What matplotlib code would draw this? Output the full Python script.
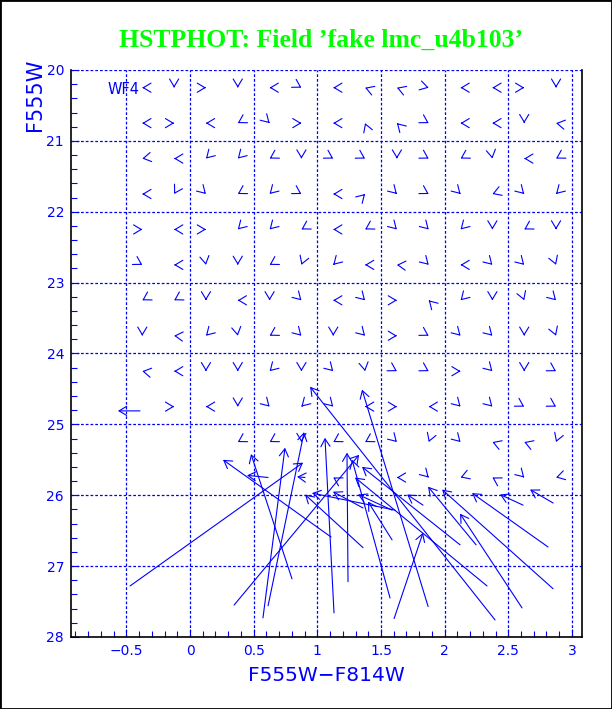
import numpy as np
import matplotlib
matplotlib.use('Agg')
import matplotlib.pyplot as plt
from matplotlib.ticker import MultipleLocator
from matplotlib.patches import Rectangle

BLUE = '#0000ff'

# input grid of the fake stars (colour, magnitude)
col_centers = [-0.375, -0.125, 0.125, 0.375, 0.625, 0.875, 1.125,
               1.375, 1.625, 1.875, 2.125, 2.375, 2.625, 2.875]
row_mags = [20.25, 20.75, 21.25, 21.75, 22.25, 22.75,
            23.25, 23.75, 24.25, 24.75, 25.25, 25.75]

# screen direction (deg, ccw from +x) of the tiny offset arrows, None = no short arrow
small_dirs = [
    [180, 270, 0, 270, 180, 330, 180, 160, 160, 345, 180, 180, 0, 270],
    [180, 0, 180, 210, 315, 0, 180, 110, 135, 330, 180, 180, 270, 170],
    [190, 180, 225, 225, 210, 270, 330, 330, 270, 330, 210, 280, 180, 210],
    [180, 240, 315, 210, 225, 330, 180, 45, 315, 330, 315, 200, 315, 225],
    [0, 180, 0, 225, 225, 210, 180, 210, 315, 315, 225, 270, 210, 270],
    [330, 180, 280, 270, 210, 250, 225, 180, 175, 315, 180, 315, 315, 290],
    [210, 210, 270, 180, 270, 315, 180, 315, 0, 135, 225, 270, 290, 315],
    [270, 175, 225, 280, 210, 315, 270, 315, 0, 330, 315, 315, 270, 290],
    [170, 180, 270, 270, 225, 270, 315, 280, 330, 330, 0, 315, 270, 330],
    [None, 0, 180, 270, 315, 225, 315, 180, 0, 180, 315, 315, 330, 330],
    [None, None, None, 210, 210, 270, 210, 210, 315, 250, 315, 160, 160, 250],
    [None, None, None, None, None, None, 150, None, 180, 315, 200, 150, 315, 195],
]

# arrows with a visible shaft: start (x0, y0) -> end (x1, y1)
long_x0 = [-0.471, 1.108, 0.801, 0.573, 0.613, 1.131, 1.241, 0.346, 2.396, 1.870,
           1.603, 1.571, 2.121, 2.333, 1.359, 1.610, 1.359, 1.587, 1.587, 2.852,
           2.616, 2.812, 2.608, 2.852, 1.830, 2.247, 0.613, 0.903, -0.393]
long_y0 = [27.28, 26.59, 27.18, 27.73, 27.56, 27.66, 27.22, 27.55, 27.76, 27.57,
           27.74, 27.45, 26.70, 27.28, 26.74, 26.21, 26.18, 26.21, 26.63, 26.11,
           26.14, 26.73, 27.59, 27.32, 26.14, 26.70, 25.75, 25.75, 24.81]
long_x1 = [0.888, 0.259, 0.479, 0.746, 0.896, 1.060, 1.233, 1.328, 0.943, 1.351,
           1.830, 1.273, 1.351, 1.296, 0.903, 0.958, 1.123, 1.320, 1.398, 2.671,
           2.435, 2.215, 2.121, 1.980, 1.705, 1.870, 0.448, 0.841, -0.566]
long_y1 = [25.54, 25.50, 25.42, 25.33, 25.11, 25.19, 25.40, 25.43, 24.47, 24.51,
           26.53, 25.50, 25.60, 25.75, 25.99, 25.97, 25.95, 25.99, 26.09, 25.92,
           25.99, 25.97, 26.26, 25.92, 25.99, 25.88, 25.72, 25.74, 24.81]

x_range = (-0.935, 3.079)
mag_range = (28, 20)

head = '->,head_length=0.55,head_width=0.33'

fig = plt.figure(figsize=(6.12, 7.09), dpi=100)
ax = fig.add_axes([0.116, 0.1016, 0.835, 0.7997])
ax.set_xlim(*x_range)
ax.set_ylim(*mag_range)

# dotted blue grid, top edge drawn as a grid line as well
for gx in np.arange(-0.5, 3.01, 0.5):
    ax.axvline(gx, color=BLUE, lw=0.9, ls=(0, (2.2, 1.6)), zorder=1)
for gy in range(20, 28):
    ax.axhline(gy, color=BLUE, lw=0.9, ls=(0, (2.2, 1.6)), zorder=1)

ax.spines['top'].set_visible(False)
for s in ['left', 'bottom', 'right']:
    ax.spines[s].set_color('black')
    ax.spines[s].set_linewidth(1.2)

ax.xaxis.set_major_locator(MultipleLocator(0.5))
ax.xaxis.set_minor_locator(MultipleLocator(0.1))
ax.yaxis.set_major_locator(MultipleLocator(1))
ax.yaxis.set_minor_locator(MultipleLocator(0.2))
ax.tick_params(which='both', direction='in', colors=BLUE, labelsize=10,
               top=False, right=False, width=0.8)
ax.tick_params(which='major', length=6, pad=5)
ax.tick_params(which='minor', length=4)
ax.set_xticks([-0.5, 0, 0.5, 1, 1.5, 2, 2.5, 3])
ax.set_xticklabels(['\u22120.5', '0', '0.5', '1', '1.5', '2', '2.5', '3'])

# tiny arrows: only the head is seen
for j, mag in enumerate(row_mags):
    for i, col in enumerate(col_centers):
        a = small_dirs[j][i]
        if a is None:
            continue
        r = np.deg2rad(a)
        ax.annotate('', xy=(col, mag),
                    xytext=(-1.2 * np.cos(r), -1.2 * np.sin(r)),
                    textcoords='offset points',
                    arrowprops=dict(arrowstyle=head, color=BLUE, lw=0.8,
                                    shrinkA=0, shrinkB=0))

for x0, y0, x1, y1 in zip(long_x0, long_y0, long_x1, long_y1):
    ax.annotate('', xy=(x1, y1), xytext=(x0, y0),
                arrowprops=dict(arrowstyle=head, color=BLUE, lw=0.8,
                                shrinkA=0, shrinkB=0))

ax.text(-0.52, 20.27, 'WF4', color=BLUE, fontsize=10.5, ha='center', va='center')

ax.set_xlabel('F555W\u2212F814W', color=BLUE, fontsize=14.5, labelpad=6)
fig.text(35 / 612, 1 - 95 / 709, 'F555W', color=BLUE, fontsize=15,
         rotation=90, ha='center', va='center')

fig.text(321 / 612, 1 - 40 / 709, 'HSTPHOT: Field \u2019fake lmc_u4b103\u2019',
         color='#00ff00', fontsize=18.5, fontweight='bold',
         family='Liberation Serif', ha='center', va='center')

fig.patches.append(Rectangle((0, 0), 1, 1, transform=fig.transFigure,
                             fill=False, edgecolor='black', lw=2))

fig.savefig('out.png', dpi=100)
